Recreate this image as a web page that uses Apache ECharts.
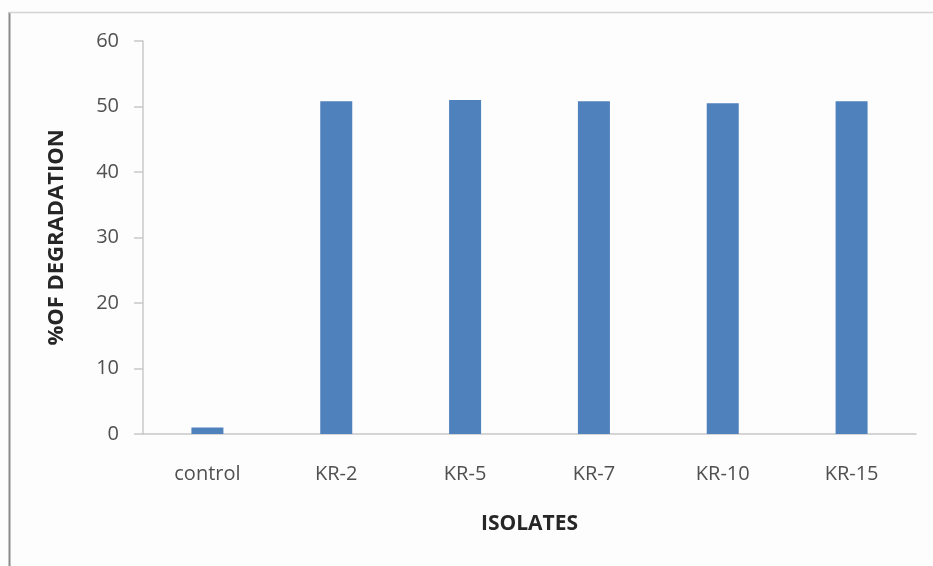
<!DOCTYPE html>
<html>
<head>
<meta charset="utf-8">
<script src="https://cdn.jsdelivr.net/npm/echarts@6/dist/echarts.min.js"></script>
<style>
  html, body { margin: 0; padding: 0; background: #fdfdfd; }
  #chart { width: 933px; height: 566px; }
</style>
</head>
<body>
<div id="chart"></div>
<script>
// Isolates tested and their percentage of degradation
const categories = ['control', 'KR-2', 'KR-5', 'KR-7', 'KR-10', 'KR-15'];
const degradation = [1.0, 50.8, 51.0, 50.8, 50.5, 50.8];
const yTicks = { min: 0, max: 60, interval: 10 };

const chart = echarts.init(document.getElementById('chart'));
const font = '"Open Sans", "Liberation Sans", sans-serif';

chart.setOption({
  backgroundColor: '#fdfdfd',
  animation: false,
  grid: { left: 143, right: 17, top: 41, bottom: 132 },
  graphic: [
    // panel frame: dark left edge and light top edge
    { type: 'line', shape: { x1: 9.5, y1: 12, x2: 9.5, y2: 566 }, style: { stroke: '#8a8a8a', lineWidth: 2 } },
    { type: 'line', shape: { x1: 9, y1: 12.5, x2: 933, y2: 12.5 }, style: { stroke: '#d4d4d4', lineWidth: 1.5 } }
  ],
  xAxis: {
    type: 'category',
    data: categories,
    name: 'ISOLATES',
    nameLocation: 'middle',
    nameGap: 80,
    nameTextStyle: { fontFamily: font, fontSize: 21, fontWeight: 'bold', color: '#262626' },
    axisLine: { lineStyle: { color: '#c8c8c8', width: 1.5 } },
    axisTick: { show: false },
    axisLabel: { margin: 30, fontFamily: font, fontSize: 20, color: '#505050' }
  },
  yAxis: {
    type: 'value',
    min: yTicks.min,
    max: yTicks.max,
    interval: yTicks.interval,
    name: '%OF DEGRADATION',
    nameLocation: 'middle',
    nameGap: 75,
    nameTextStyle: { fontFamily: font, fontSize: 22, fontWeight: 'bold', color: '#262626' },
    axisLine: { show: true, lineStyle: { color: '#c8c8c8', width: 1.5 } },
    axisTick: { show: true, length: 9, lineStyle: { color: '#c8c8c8', width: 1.5 } },
    splitLine: { show: false },
    axisLabel: { margin: 24, fontFamily: font, fontSize: 20, color: '#505050' }
  },
  series: [{
    type: 'bar',
    data: degradation,
    barWidth: 32,
    itemStyle: { color: '#4f81bd' }
  }]
});
</script>
</body>
</html>
